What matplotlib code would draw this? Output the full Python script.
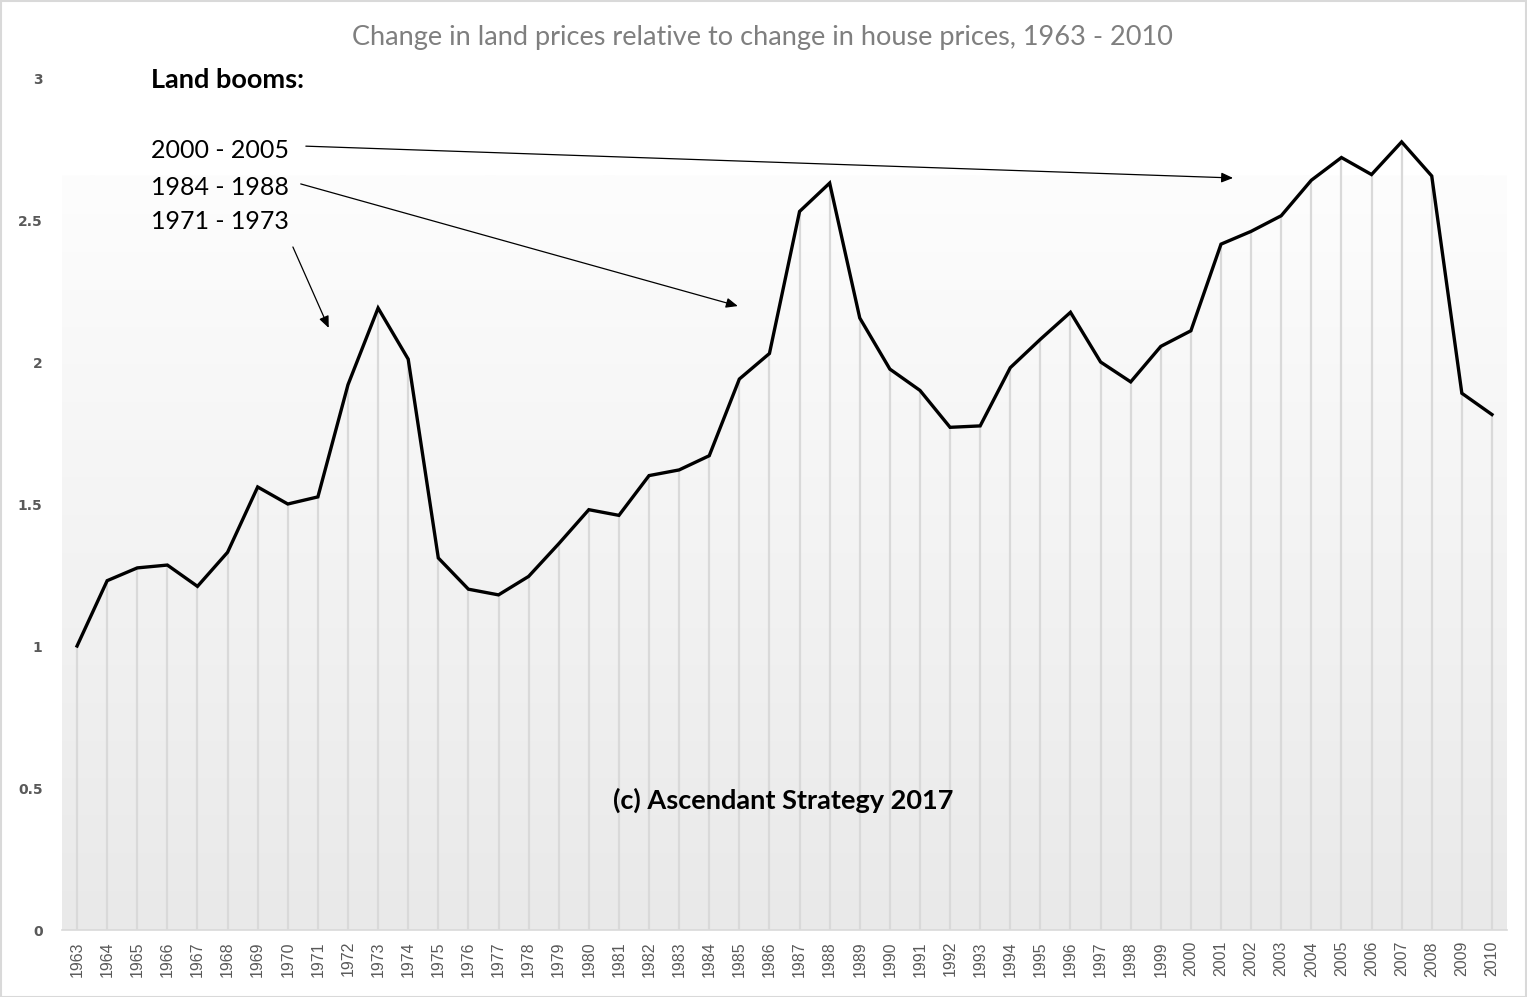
import numpy as np
import matplotlib
matplotlib.use("Agg")
import matplotlib.pyplot as plt
from matplotlib.patches import Rectangle
from matplotlib.colors import LinearSegmentedColormap

years = list(range(1963, 2011))
ratio = [1.00, 1.23, 1.275, 1.285, 1.21, 1.33, 1.56, 1.50, 1.525, 1.92,
         2.19, 2.01, 1.31, 1.20, 1.18, 1.245, 1.36, 1.48, 1.46, 1.60,
         1.62, 1.67, 1.94, 2.03, 2.53, 2.63, 2.155, 1.975, 1.90, 1.77,
         1.775, 1.98, 2.08, 2.175, 2.00, 1.93, 2.055, 2.11, 2.415, 2.46,
         2.515, 2.64, 2.72, 2.66, 2.775, 2.655, 1.89, 1.815]
yticks = [0, 0.5, 1, 1.5, 2, 2.5, 3]
ytick_labels = ["0", "0.5", "1", "1.5", "2", "2.5", "3"]

title = "Change in land prices relative to change in house prices, 1963 - 2010"
booms = ["2000 - 2005", "1984 - 1988", "1971 - 1973"]

fig = plt.figure(figsize=(15.27, 9.97), dpi=100)
ax = fig.add_axes([62/1527, (997-930)/997, (1507-62)/1527, (930-78)/997])

x = np.array(years)
y = np.array(ratio)

# gradient plot area background
grad = np.linspace(0, 1, 256).reshape(-1, 1)
cmap = LinearSegmentedColormap.from_list("g", ["#e9e9e9", "#fdfdfd"])
ax.imshow(grad, cmap=cmap, aspect="auto", origin="lower",
          extent=[1962.5, 2010.5, 0, 2.655], zorder=0)

ax.vlines(x, 0, y, colors="#d9d9d9", linewidth=1.6, zorder=1)
ax.plot(x, y, color="black", linewidth=2.4, solid_joinstyle="miter", zorder=3)

ax.set_xlim(1962.5, 2010.5)
ax.set_ylim(0, 3)
ax.set_xticks(years)
ax.set_xticklabels([str(v) for v in years], rotation=90, fontsize=11.5,
                   family="Liberation Sans", color="#595959")
ax.set_yticks(yticks)
ax.set_yticklabels(ytick_labels, fontsize=10, fontweight="bold",
                   family="DejaVu Sans", color="#595959")
ax.tick_params(axis="both", length=0)
ax.tick_params(axis="y", pad=14)
ax.tick_params(axis="x", pad=8)
for s in ["top", "right", "left"]:
    ax.spines[s].set_visible(False)
ax.spines["bottom"].set_color("#d9d9d9")
ax.spines["bottom"].set_linewidth(1.2)

fig.text(0.499, 1 - 37/997, title, ha="center", va="center", fontsize=19.5,
         family="Lato", color="#7f7f7f")

ax.text(1965.45, 2.993, "Land booms:", fontsize=19.5, fontweight="bold",
        family="Lato", va="center", ha="left")
boom_y = [2.743, 2.616, 2.493]
for lbl, yy in zip(booms, boom_y):
    ax.text(1965.45, yy, lbl, fontsize=18, family="Lato", va="center", ha="left")

arrows = [((1970.6, 2.76), (2001.4, 2.648)),
          ((1970.43, 2.627), (1984.95, 2.197)),
          ((1970.17, 2.405), (1971.36, 2.12))]
for (tail, tip) in arrows:
    ax.annotate("", xy=tip, xytext=tail,
                arrowprops=dict(arrowstyle="-|>,head_length=0.7,head_width=0.3",
                                color="black", lw=0.9, shrinkA=0, shrinkB=0),
                zorder=4)

ax.text(1986.46, 0.458, "(c) Ascendant Strategy 2017", fontsize=19.5,
        fontweight="bold", family="Lato", ha="center", va="center")

fig.patches.append(Rectangle((0.5/1527, 0.5/997), 1 - 1.5/1527, 1 - 1.5/997,
                             transform=fig.transFigure, fill=False,
                             edgecolor="#d9d9d9", linewidth=1.5))

fig.savefig("out.png", dpi=100)
